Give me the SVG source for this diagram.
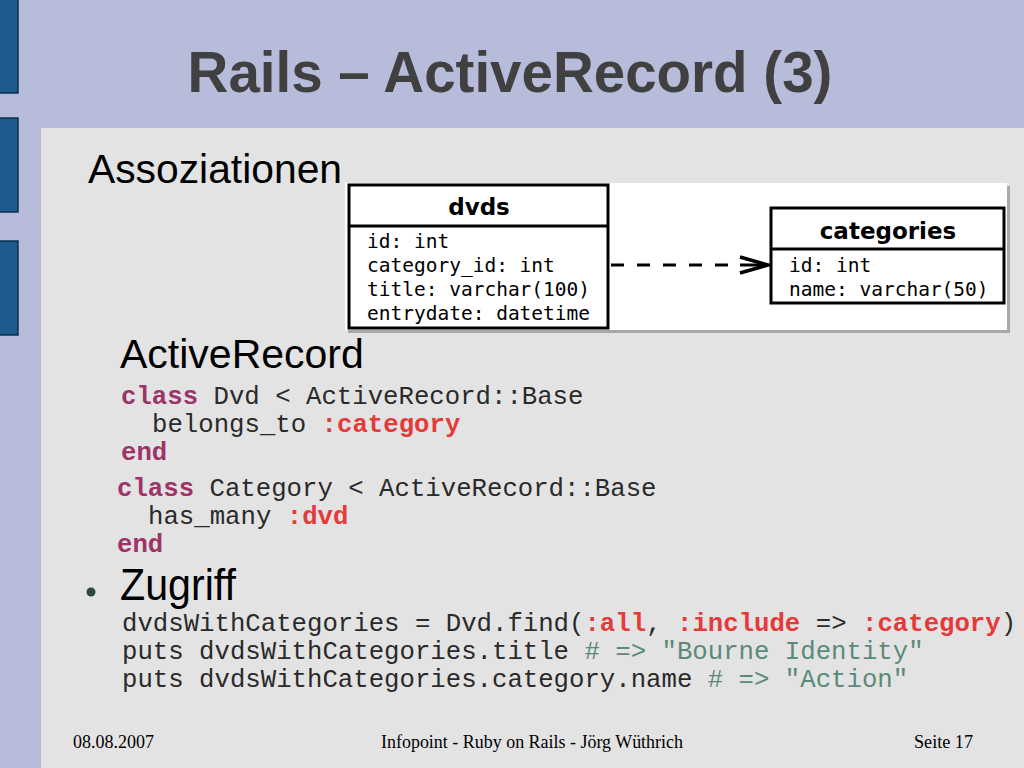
<svg xmlns="http://www.w3.org/2000/svg" width="1024" height="768" viewBox="0 0 1024 768">
<defs>
<style>
.bar{fill:#1d5b8f;stroke:#0e2f4f;stroke-width:1.5}
.sans{font-family:"Liberation Sans",Arial,sans-serif;fill:#000}
.code{font-family:"Liberation Mono","Courier New",monospace;font-size:25.7px;fill:#2a2a2a}
.kw{fill:#9c3468;font-weight:bold}
.sym{fill:#e63a3a;font-weight:bold}
.cmt{fill:#5b8a78}
.foot{font-family:"Liberation Serif","Times New Roman",serif;font-size:18px;fill:#000}
.box{fill:#fff;stroke:#000;stroke-width:3}
.hdr{font-family:"DejaVu Sans",sans-serif;font-weight:bold;font-size:23px;fill:#000;text-anchor:middle}
.fld{font-family:"DejaVu Sans Mono",monospace;font-size:19.5px;fill:#000}
</style>
<marker id="chev" viewBox="0 0 32 20" refX="30" refY="10" markerWidth="32" markerHeight="20" markerUnits="userSpaceOnUse" orient="auto">
<polyline points="2,2 30,10 2,18" fill="none" stroke="#000" stroke-width="3.5"/>
</marker>
</defs>
<rect width="1024" height="768" fill="#b8bcdb"/>
<g id="bars">
<rect class="bar" x="-2" y="-2" width="20" height="95"/>
<rect class="bar" x="-2" y="118" width="20" height="94"/>
<rect class="bar" x="-2" y="241" width="20" height="94"/>
</g>
<rect x="41" y="128" width="990" height="650" fill="#e3e3e3"/>
<text id="title" x="510" y="92" font-family="Liberation Sans,Arial,sans-serif" font-weight="bold" font-size="56.5" fill="#404040" text-anchor="middle">Rails – ActiveRecord (3)</text>
<text id="assoz" class="sans" x="88" y="183" font-size="40.8">Assoziationen</text>
<g id="diagram">
<rect x="348" y="186" width="662" height="147" fill="#a8a8a8"/>
<rect x="345" y="183" width="662" height="147" fill="#fff"/>
<g id="dvds">
<rect class="box" x="349" y="185" width="259" height="143"/>
<line x1="349" y1="226" x2="608" y2="226" stroke="#000" stroke-width="3"/>
<text class="hdr" x="479" y="215">dvds</text>
<text class="fld" x="367" y="248">id: int</text>
<text class="fld" x="367" y="272">category_id: int</text>
<text class="fld" x="367" y="296">title: varchar(100)</text>
<text class="fld" x="367" y="320">entrydate: datetime</text>
</g>
<g id="categories">
<rect class="box" x="771" y="208" width="233" height="95"/>
<line x1="771" y1="249" x2="1004" y2="249" stroke="#000" stroke-width="3"/>
<text class="hdr" x="888" y="239">categories</text>
<text class="fld" x="789" y="272">id: int</text>
<text class="fld" x="789" y="296">name: varchar(50)</text>
</g>
<g id="connectors">
<line x1="611" y1="265" x2="737" y2="265" stroke="#000" stroke-width="3" stroke-dasharray="13 13"/>
<path d="M740,265 L768,265" stroke="#000" stroke-width="3" fill="none" marker-end="url(#chev)"/>
</g>
</g>
<text id="ar" class="sans" x="120" y="368" font-size="41">ActiveRecord</text>
<g id="code1" xml:space="preserve">
<text class="code" x="121" y="404"><tspan class="kw">class</tspan> Dvd &lt; ActiveRecord::Base</text>
<text class="code" x="152" y="432">belongs_to <tspan class="sym">:category</tspan></text>
<text class="code" x="121" y="460"><tspan class="kw">end</tspan></text>
</g>
<g id="code2" xml:space="preserve">
<text class="code" x="117" y="496"><tspan class="kw">class</tspan> Category &lt; ActiveRecord::Base</text>
<text class="code" x="148" y="524">has_many <tspan class="sym">:dvd</tspan></text>
<text class="code" x="117" y="552"><tspan class="kw">end</tspan></text>
</g>
<g id="zugriff">
<circle cx="91" cy="592" r="4.5" fill="#2b4a3c"/>
<text class="sans" x="120" y="600" font-size="45" textLength="116" lengthAdjust="spacingAndGlyphs">Zugriff</text>
</g>
<g id="code3" xml:space="preserve">
<text class="code" x="122" y="631">dvdsWithCategories = Dvd.find(<tspan class="sym">:all</tspan>, <tspan class="sym">:include</tspan> =&gt; <tspan class="sym">:category</tspan>)</text>
<text class="code" x="122" y="659">puts dvdsWithCategories.title <tspan class="cmt"># =&gt; "Bourne Identity"</tspan></text>
<text class="code" x="122" y="687">puts dvdsWithCategories.category.name <tspan class="cmt"># =&gt; "Action"</tspan></text>
</g>
<g id="footer">
<text class="foot" x="73" y="748" textLength="81" lengthAdjust="spacingAndGlyphs">08.08.2007</text>
<text class="foot" x="381" y="748" textLength="302" lengthAdjust="spacingAndGlyphs">Infopoint - Ruby on Rails - Jörg Wüthrich</text>
<text class="foot" x="914" y="748" textLength="59" lengthAdjust="spacingAndGlyphs">Seite 17</text>
</g>
</svg>
